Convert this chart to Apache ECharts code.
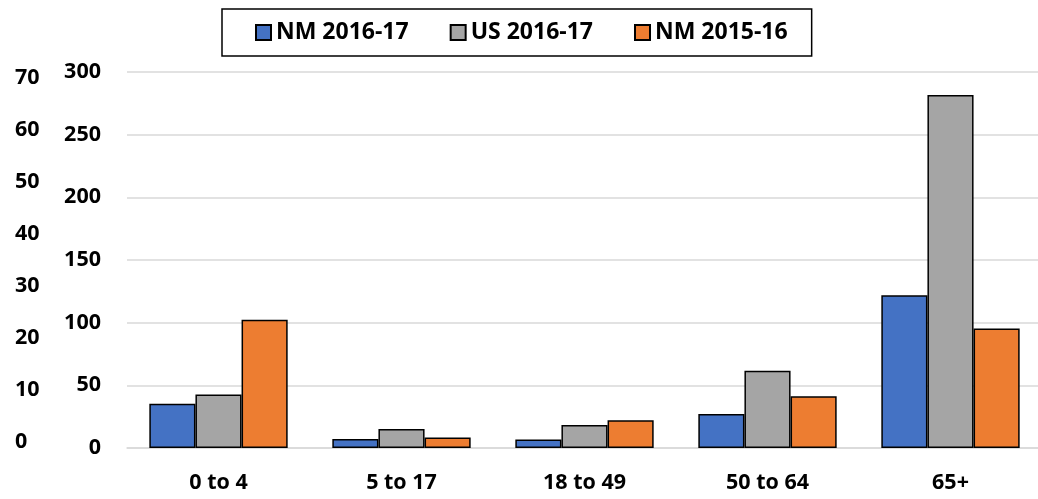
<!DOCTYPE html>
<html>
<head>
<meta charset="utf-8">
<script src="https://cdn.jsdelivr.net/npm/echarts@6/dist/echarts.min.js"></script>
<style>html,body{margin:0;padding:0;background:#fff;}#c{width:1038px;height:499px;}</style>
</head>
<body>
<div id="c"></div>
<script>
const categories = ['0 to 4', '5 to 17', '18 to 49', '50 to 64', '65+'];
const seriesNames = ['NM 2016-17', 'US 2016-17', 'NM 2015-16'];
const nm1617 = [35.4, 7.2, 6.7, 27.2, 121.9];
const us1617 = [42.6, 15.2, 18.4, 61.7, 281.6];
const nm1516 = [102.3, 8.3, 22.1, 41.2, 95.3];
const leftTicks = [0, 10, 20, 30, 40, 50, 60, 70];
const rightTicks = [0, 50, 100, 150, 200, 250, 300];
const colors = ['#4472C4', '#A5A5A5', '#ED7D31'];

const FONT = '"Open Sans", sans-serif';
const chart = echarts.init(document.getElementById('c'), null, {renderer: 'canvas'});
const bar = (name, data, color) => ({
  name, type: 'bar', data, xAxisIndex: 0, yAxisIndex: 0,
  barGap: '0%', barCategoryGap: '24.4%',
  itemStyle: {color, borderColor: '#000', borderWidth: 1.5},
  emphasis: {disabled: true}
});
chart.setOption({
  animation: false,
  color: colors,
  legend: {
    data: seriesNames,
    left: 222, top: 9,
    padding: [12, 24, 12, 33],
    itemWidth: 15, itemHeight: 15, itemGap: 41,
    icon: 'rect',
    borderColor: '#000', borderWidth: 1.5,
    textStyle: {fontFamily: FONT, fontWeight: 'bold', fontSize: 23, color: '#000'}
  },
  grid: [
    {left: 127, top: 72, width: 915, height: 376, outerBoundsMode: 'none', containLabel: false},
    {left: 50, top: 78, width: 10, height: 364, outerBoundsMode: 'none', containLabel: false}
  ],
  xAxis: [
    {type: 'category', gridIndex: 0, data: categories,
     axisLine: {lineStyle: {color: '#d9d9d9', width: 1.5}},
     axisTick: {show: false},
     axisLabel: {fontFamily: FONT, fontWeight: 'bold', fontSize: 21.5, color: '#000', margin: 24}},
    {type: 'category', gridIndex: 1, data: ['a'], show: false}
  ],
  yAxis: [
    {type: 'value', gridIndex: 0, min: rightTicks[0], max: rightTicks[rightTicks.length - 1], interval: 50,
     axisLine: {show: false}, axisTick: {show: false},
     splitLine: {lineStyle: {color: '#d9d9d9', width: 1.5}},
     axisLabel: {fontFamily: FONT, fontWeight: 'bold', fontSize: 21.5, color: '#000', margin: 26}},
    {type: 'value', gridIndex: 1, min: leftTicks[0], max: leftTicks[leftTicks.length - 1], interval: 10,
     axisLine: {show: false}, axisTick: {show: false}, splitLine: {show: false},
     axisLabel: {fontFamily: FONT, fontWeight: 'bold', fontSize: 21.5, color: '#000', margin: 35, align: 'left'}}
  ],
  series: [
    bar(seriesNames[0], nm1617, colors[0]),
    bar(seriesNames[1], us1617, colors[1]),
    bar(seriesNames[2], nm1516, colors[2])
  ]
});
</script>
</body>
</html>
